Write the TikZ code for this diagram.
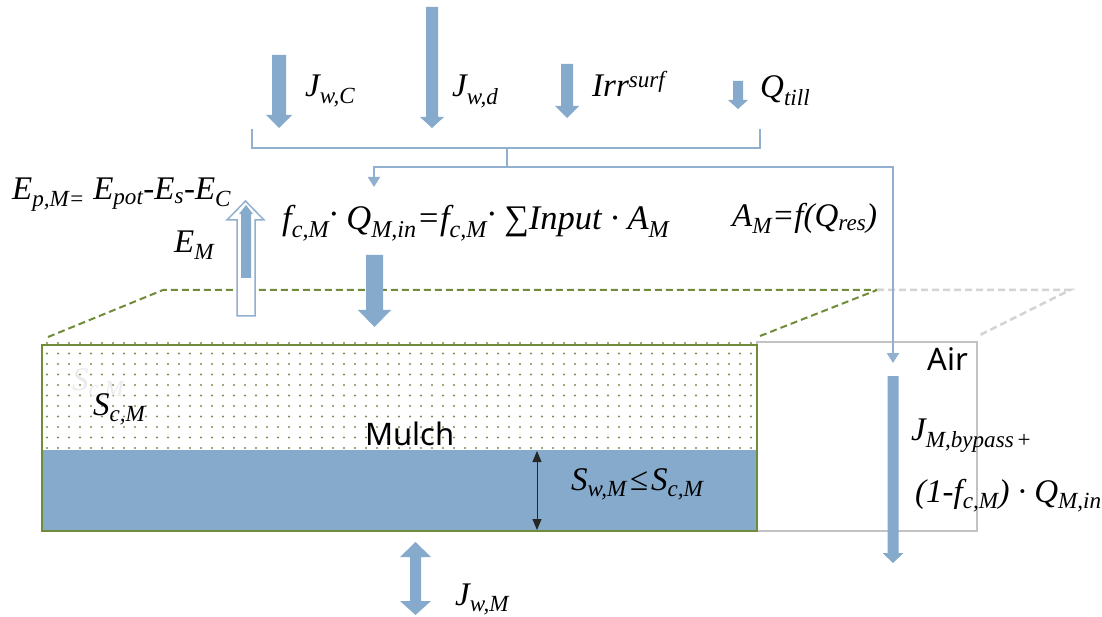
\documentclass[tikz,border=0pt]{standalone}
\usepackage{fontspec}
\setmainfont{Liberation Serif}
\newfontfamily\sansf{Noto Sans}
\usetikzlibrary{arrows.meta}
\definecolor{wblue}{RGB}{133,170,203}
\definecolor{lblue}{RGB}{145,175,207}
\definecolor{olivegr}{RGB}{112,140,58}
\definecolor{dotgr}{RGB}{120,140,80}
\definecolor{airgray}{RGB}{195,195,195}
\definecolor{dashgray}{RGB}{212,212,212}
\newcommand\mysb[1]{\textsubscript{#1}}
\newcommand\mysp[1]{\textsuperscript{#1}}
% block arrow pointing down: x, ytop, ytip, shaft half, head half, head length
\newcommand\blkdown[6]{%
  \fill[wblue] ({#1-#4},#2) -- ({#1+#4},#2) -- ({#1+#4},{#3-#6}) -- ({#1+#5},{#3-#6})
    -- (#1,#3) -- ({#1-#5},{#3-#6}) -- ({#1-#4},{#3-#6}) -- cycle;}
\begin{document}
\begin{tikzpicture}[x=1pt,y=-1pt,
  lab/.style={anchor=base west,inner sep=0pt,font=\fontsize{33}{38}\selectfont\itshape},
  biglab/.style={anchor=base west,inner sep=0pt,font=\fontsize{34.5}{40}\selectfont\itshape},
  sanslab/.style={anchor=base west,inner sep=0pt,font=\fontsize{31}{36}\selectfont\sansf},
  link/.style={draw=lblue,line width=2pt},
  tri/.tip={Triangle[width=12pt,length=10pt]}]
\useasboundingbox (0,0) rectangle (1102,617);
\fill[white] (0,0) rectangle (1102,617);

% dashed perspective lines
\draw[olivegr,line width=2pt,dash pattern=on 7pt off 4pt] (48,337) -- (163,290) -- (877,290) -- (760,336);
\draw[dashgray,line width=2.5pt,dash pattern=on 7pt off 4pt] (877,290) -- (1070,290) -- (980,335);

% Air box
\draw[airgray,line width=1.5pt] (757,342) rectangle (977,531);

% Mulch box: dotted upper part
\foreach \j in {0,...,10}{
  \foreach \i in {0,...,64}{
    \fill[dotgr] ({47+11*\i},{343+10.5*\j}) circle (1.05pt);
  }
}
\fill[wblue] (42,450) rectangle (757,531);
\draw[olivegr,line width=1.5pt] (42,345) rectangle (757,531);

% top block arrows
\blkdown{279}{55}{128}{7}{13}{13}
\blkdown{432}{7}{128}{6}{12}{11}
\blkdown{567}{64}{118}{6}{12}{12}
\blkdown{738}{81}{109}{5}{10}{9}
% big input arrow into mulch
\blkdown{374.5}{255}{327}{8.5}{16.5}{17}
% bypass arrow
\blkdown{893}{376}{563}{5.5}{10.5}{10}
% J_wM double arrow
\fill[wblue] (410,557) -- (400,557) -- (415.5,542) -- (431,557) -- (421,557) -- (421,601)
  -- (431,601) -- (415.5,615) -- (400,601) -- (410,601) -- cycle;
% E_M hollow arrow
\draw[lblue,line width=1.5pt,fill=white] (237,316) -- (237,220) -- (227,220) -- (245.5,201)
  -- (264,220) -- (255,220) -- (255,316) -- cycle;
\fill[wblue] (241,278) -- (241,214) -- (239,214) -- (246,205) -- (253,214) -- (251,214) -- (251,278) -- cycle;

% bracket collecting inputs
\coordinate (bl) at (252,129);
\coordinate (br) at (760,129);
\coordinate (bm) at (507,148);
\coordinate (split) at (507,167);
\coordinate (inl) at (374,167);
\coordinate (inr) at (893,167);
\coordinate (intip) at (374,187);
\coordinate (airtip) at (893,363);
\draw[link] (bl) -- (252,148) -- (760,148) -- (br);
\draw[link] (bm) -- (split);
\draw[link,tri-tri] (intip) -- (inl) -- (inr) -- (airtip);

% storage double arrow
\coordinate (st) at (537,451);
\coordinate (sb) at (537,530);
\draw[black!85,line width=0.9pt,{Triangle[width=9pt,length=11pt]}-{Triangle[width=9pt,length=11pt]}] (st) -- (sb);

% labels
\node[lab] (jwc) at (305,97) {J\mysb{w,C}};
\node[lab] (jwd) at (452,97) {J\mysb{w,d}};
\node[lab] (irr) at (592,97) {Irr\mysp{surf}};
\node[lab] (qtill) at (760,98) {Q\mysb{till}};
\node[lab] (epm) at (12,200) {E\mysb{p,M=} E\mysb{pot}-E\mysb{s}-E\mysb{C}};
\node[lab] (em) at (174,253) {E\mysb{M}};
\node[biglab] (fin) at (282,230) {f\mysb{c,M}\raisebox{4pt}{·} Q\mysb{M,in}=f\mysb{c,M}\raisebox{4pt}{·} ∑Input · A\mysb{M}};
\node[lab] (am) at (732,227) {A\mysb{M}=f(Q\mysb{res})};
\node[lab,text=black!8] (ghost) at (72,390) {S\mysb{c,M}};
\node[lab] (scm) at (93,415) {S\mysb{c,M}};
\node[sanslab] (mulch) at (365,445) {Mulch};
\node[lab] (sw) at (571,490) {S\mysb{w,M}\kern3pt≤\kern3pt S\mysb{c,M}};
\node[sanslab] (air) at (927,370) {Air};
\node[lab] (byp) at (911,440) {J\mysb{M,bypass\,\upshape+}};
\node[lab] (byp2) at (915,502) {(1-f\mysb{c,M}) · Q\mysb{M,in}};
\node[lab] (jwm) at (455,605) {J\mysb{w,M}};
\end{tikzpicture}
\end{document}
